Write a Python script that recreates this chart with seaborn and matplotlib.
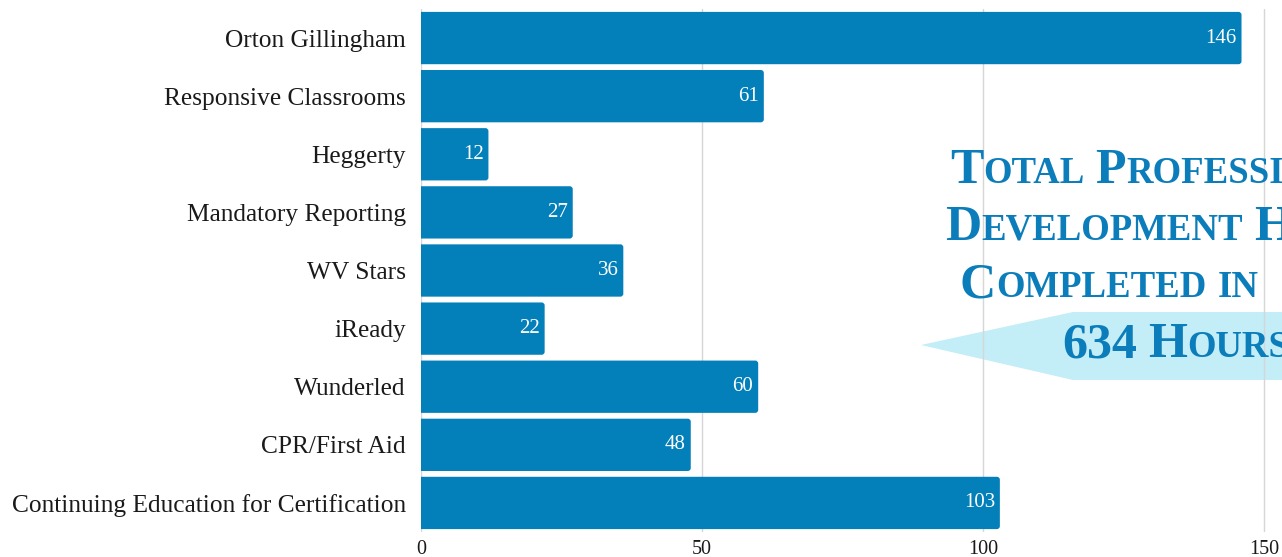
import re
import numpy as np
import pandas as pd
import seaborn as sns
import matplotlib.pyplot as plt
from matplotlib.patches import Polygon, FancyBboxPatch

# veriler
courses = ['Orton Gillingham', 'Responsive Classrooms', 'Heggerty', 'Mandatory Reporting',
           'WV Stars', 'iReady', 'Wunderled', 'CPR/First Aid',
           'Continuing Education for Certification']
hours = [146, 61, 12, 27, 36, 22, 60, 48, 103]
x_ticks = [0, 50, 100, 150]
title_lines = ['Total Professional', 'Development Hours', 'Completed in', '634 Hours']

W, H = 1282, 557
bar_color = '#037fba'
title_color = '#0b7dba'

sns.set_theme(style='white')
plt.rcParams['font.family'] = ['Liberation Serif', 'DejaVu Serif']

df = pd.DataFrame({'course': courses, 'hours': hours})

fig = plt.figure(figsize=(W / 100, H / 100), dpi=100)
ax = fig.add_axes([421 / W, 1 - 532 / H, 1 - 421 / W, (532 - 9) / H])

sns.barplot(data=df, x='hours', y='course', orient='h', color=bar_color,
            saturation=1, width=0.9, ax=ax)

ax.set_xlim(0, (W - 421) / 5.62)

# bar uclarini hafif yuvarlat (sol taraf eksenle kirpiliyor)
r = 3 / 5.62
aspect = (3 / 58.1) / r
for p in list(ax.patches):
    x0, y0, w, h = p.get_x(), p.get_y(), p.get_width(), p.get_height()
    rb = FancyBboxPatch((x0 - r, y0), w + r, h,
                        boxstyle=f'round,pad=0,rounding_size={r}',
                        mutation_aspect=aspect, facecolor=bar_color,
                        edgecolor='none', zorder=p.get_zorder())
    p.remove()
    ax.add_patch(rb)

# deger etiketleri (bar ucunda, beyaz)
for i, v in enumerate(df['hours']):
    ax.annotate(str(v), xy=(v, i), xytext=(-3.5, 0), textcoords='offset points',
                ha='right', va='center', color='white', fontsize=15, zorder=4)

ax.set_xticks(x_ticks)
ax.set_xticklabels([str(t) for t in x_ticks])
ax.set_xlabel('')
ax.set_ylabel('')
ax.grid(axis='x', color='#d6d6d6', lw=1)
ax.set_axisbelow(True)
for s in ax.spines.values():
    s.set_visible(False)
ax.tick_params(axis='y', length=0, pad=11, labelsize=18.3, labelcolor='#1a1a1a')
ax.tick_params(axis='x', length=0, pad=5.5, labelsize=14.5, labelcolor='#1a1a1a')

# acik mavi ok sekli (634 saat arkasi)
arrow_px = [(921, 345), (1073, 312), (W + 5, 312), (W + 5, 380), (1073, 380)]
arrow = Polygon([(px / W, 1 - py / H) for px, py in arrow_px], closed=True,
                transform=fig.transFigure, facecolor='#c3edf7', edgecolor='none',
                zorder=0.2, clip_on=False)
ax.add_patch(arrow)


def small_caps(x_px, y_px, line, big=36, small=26.5):
    # small caps taklidi: buyuk harf buyuk punto, kucukler buyutulup kucuk punto
    yf = 1 - y_px / H
    prev = None
    for wi, word in enumerate(line.split(' ')):
        runs = re.findall(r'[A-Z0-9]+|[^A-Z0-9]+', word)
        for ri, run in enumerate(runs):
            size = big if (run[0].isupper() or run[0].isdigit()) else small
            gap = small * 0.3 if (ri == 0 and wi > 0) else 0
            kw = dict(fontsize=size, fontweight='bold', color=title_color,
                      va='baseline', ha='left', zorder=5)
            if prev is None:
                prev = fig.text(x_px / W, yf, run.upper(), **kw)
            else:
                prev = ax.annotate(run.upper(), xy=(1, yf),
                                   xycoords=(prev, 'figure fraction'),
                                   xytext=(gap, 0), textcoords='offset points', **kw)


small_caps(950, 183, title_lines[0])
small_caps(945, 240, title_lines[1])
small_caps(960, 297, title_lines[2])
small_caps(1062, 357, title_lines[3])

plt.savefig('out.png', dpi=100)
